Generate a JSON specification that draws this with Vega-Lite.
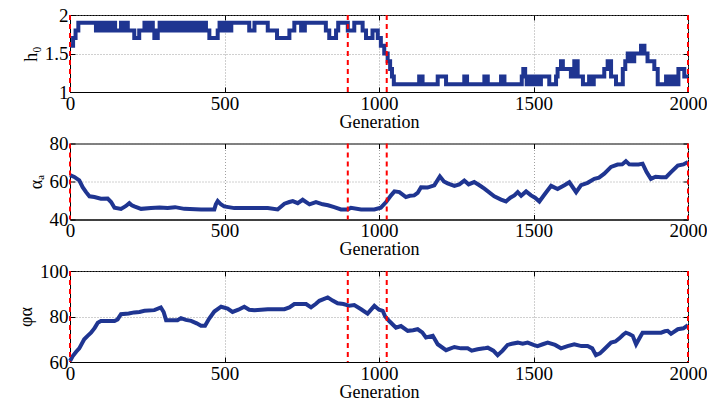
{
  "$schema": "https://vega.github.io/schema/vega-lite/v6.json",
  "padding": {"left": 17, "top": 5, "right": 0, "bottom": 0},
  "bounds": "flush",
  "spacing": 51.5,
  "config": {
    "view": {"stroke": "black", "strokeWidth": 1},
    "axis": {
      "labelFont": "Liberation Serif", "titleFont": "Liberation Serif",
      "labelFontSize": 19, "titleFontSize": 18, "titleFontWeight": "normal",
      "labelColor": "black", "titleColor": "black",
      "domainColor": "black", "tickColor": "black", "tickSize": -5, "tickWidth": 1,
      "labelPadding": 7, "labelFlush": false, "labelOverlap": false,
      "gridColor": "#888888", "gridDash": [1, 2], "gridWidth": 0.8
    }
  },
  "datasets": {
    "vlines": [{"g": 0}, {"g": 899}, {"g": 1025}, {"g": 2000}],
    "h0": [
      {"g":0,"v":1.6},{"g":10,"v":1.7},{"g":18,"v":1.8},{"g":27,"v":1.9},
      {"g":84,"v":1.8},{"g":90,"v":1.9},{"g":94,"v":1.8},{"g":100,"v":1.9},{"g":103,"v":1.8},{"g":110,"v":1.9},{"g":114,"v":1.8},{"g":122,"v":1.9},{"g":126,"v":1.8},{"g":133,"v":1.9},{"g":137,"v":1.8},{"g":143,"v":1.9},{"g":146,"v":1.8},
      {"g":165,"v":1.9},{"g":170,"v":1.8},{"g":175,"v":1.9},{"g":180,"v":1.8},{"g":183,"v":1.9},{"g":187,"v":1.8},
      {"g":208,"v":1.7},{"g":224,"v":1.8},{"g":241,"v":1.9},{"g":247,"v":1.8},{"g":252,"v":1.9},{"g":258,"v":1.8},{"g":263,"v":1.9},{"g":268,"v":1.8},{"g":273,"v":1.7},{"g":284,"v":1.8},
      {"g":290,"v":1.9},{"g":296,"v":1.8},{"g":305,"v":1.9},{"g":310,"v":1.8},{"g":316,"v":1.9},{"g":321,"v":1.8},{"g":326,"v":1.9},{"g":333,"v":1.8},{"g":338,"v":1.9},{"g":345,"v":1.8},{"g":350,"v":1.9},{"g":358,"v":1.8},{"g":362,"v":1.9},{"g":370,"v":1.8},{"g":376,"v":1.9},{"g":384,"v":1.8},{"g":390,"v":1.9},{"g":398,"v":1.8},{"g":403,"v":1.9},{"g":412,"v":1.8},{"g":417,"v":1.9},{"g":425,"v":1.8},{"g":430,"v":1.9},{"g":440,"v":1.8},
      {"g":451,"v":1.7},{"g":478,"v":1.8},{"g":484,"v":1.9},{"g":490,"v":1.8},{"g":497,"v":1.9},{"g":503,"v":1.8},{"g":510,"v":1.9},{"g":516,"v":1.8},{"g":522,"v":1.9},
      {"g":580,"v":1.8},{"g":597,"v":1.9},{"g":640,"v":1.8},{"g":670,"v":1.7},{"g":710,"v":1.8},{"g":726,"v":1.9},{"g":748,"v":1.8},{"g":760,"v":1.9},{"g":828,"v":1.8},{"g":839,"v":1.7},{"g":861,"v":1.8},{"g":868,"v":1.9},
      {"g":899,"v":1.8},{"g":920,"v":1.9},{"g":947,"v":1.8},{"g":958,"v":1.7},{"g":979,"v":1.8},{"g":996,"v":1.7},{"g":1006,"v":1.6},{"g":1017,"v":1.5},{"g":1028,"v":1.4},{"g":1036,"v":1.3},{"g":1042,"v":1.2},{"g":1048,"v":1.1},
      {"g":1130,"v":1.2},{"g":1141,"v":1.1},{"g":1190,"v":1.2},{"g":1217,"v":1.1},{"g":1276,"v":1.2},{"g":1285,"v":1.1},{"g":1341,"v":1.2},{"g":1352,"v":1.1},{"g":1395,"v":1.2},{"g":1406,"v":1.1},
      {"g":1462,"v":1.2},{"g":1467,"v":1.3},{"g":1473,"v":1.2},{"g":1478,"v":1.1},{"g":1485,"v":1.2},{"g":1492,"v":1.1},{"g":1503,"v":1.2},{"g":1507,"v":1.1},{"g":1512,"v":1.2},{"g":1516,"v":1.1},{"g":1524,"v":1.2},{"g":1551,"v":1.1},
      {"g":1573,"v":1.2},{"g":1578,"v":1.3},{"g":1589,"v":1.4},{"g":1595,"v":1.3},{"g":1621,"v":1.2},{"g":1632,"v":1.4},{"g":1643,"v":1.2},{"g":1660,"v":1.1},{"g":1680,"v":1.2},{"g":1686,"v":1.1},{"g":1695,"v":1.2},
      {"g":1702,"v":1.2},{"g":1729,"v":1.3},{"g":1740,"v":1.4},{"g":1751,"v":1.2},{"g":1767,"v":1.1},{"g":1789,"v":1.3},{"g":1797,"v":1.4},{"g":1805,"v":1.5},{"g":1816,"v":1.4},{"g":1826,"v":1.5},{"g":1848,"v":1.6},{"g":1859,"v":1.5},{"g":1869,"v":1.4},{"g":1891,"v":1.3},{"g":1902,"v":1.1},
      {"g":1929,"v":1.2},{"g":1940,"v":1.1},{"g":1950,"v":1.2},{"g":1961,"v":1.1},{"g":1969,"v":1.3},{"g":1988,"v":1.2},{"g":2000,"v":1.2}
    ],
    "alpha": [
      {"g":0,"v":63.3},{"g":14,"v":62.4},{"g":30,"v":60.6},{"g":41,"v":57},{"g":52,"v":54.4},{"g":63,"v":52.2},{"g":79,"v":51.8},{"g":100,"v":50.9},{"g":122,"v":51},{"g":133,"v":49.2},{"g":144,"v":46.2},{"g":165,"v":45.6},{"g":180,"v":47},{"g":192,"v":48.6},{"g":200,"v":47.5},{"g":208,"v":46.9},{"g":230,"v":45.6},{"g":262,"v":46},{"g":290,"v":46.3},{"g":316,"v":46},{"g":340,"v":46.5},{"g":370,"v":45.6},{"g":424,"v":45.3},{"g":467,"v":45.3},{"g":472,"v":48},{"g":478,"v":49.7},{"g":488,"v":48},{"g":499,"v":46.9},{"g":532,"v":46},{"g":586,"v":46},{"g":640,"v":46},{"g":672,"v":45.3},{"g":694,"v":48.3},{"g":710,"v":49.2},{"g":721,"v":49.7},{"g":737,"v":48.6},{"g":753,"v":50.4},{"g":775,"v":48},{"g":796,"v":49.2},{"g":818,"v":48},{"g":835,"v":47.5},{"g":855,"v":46.5},{"g":877,"v":45.3},{"g":899,"v":45.3},{"g":909,"v":46.2},{"g":942,"v":45.3},{"g":985,"v":45.3},{"g":1006,"v":46.2},{"g":1023,"v":49.2},{"g":1039,"v":52.7},{"g":1050,"v":54.8},{"g":1066,"v":54.4},{"g":1087,"v":51.8},{"g":1100,"v":52.5},{"g":1114,"v":52.7},{"g":1125,"v":54},{"g":1136,"v":57},{"g":1157,"v":56.8},{"g":1179,"v":58},{"g":1197,"v":62.7},{"g":1210,"v":60},{"g":1222,"v":59},{"g":1244,"v":57.7},{"g":1260,"v":58.5},{"g":1276,"v":60.5},{"g":1290,"v":58.5},{"g":1308,"v":59.7},{"g":1325,"v":58},{"g":1341,"v":56.2},{"g":1373,"v":52.2},{"g":1395,"v":50.5},{"g":1411,"v":49.5},{"g":1425,"v":51.5},{"g":1438,"v":52.7},{"g":1449,"v":54.4},{"g":1460,"v":52.5},{"g":1476,"v":54.8},{"g":1492,"v":52.7},{"g":1505,"v":51.5},{"g":1519,"v":49.5},{"g":1535,"v":53},{"g":1557,"v":57.7},{"g":1578,"v":56},{"g":1600,"v":58},{"g":1616,"v":59.6},{"g":1638,"v":54.4},{"g":1654,"v":58.1},{"g":1675,"v":59.3},{"g":1697,"v":61.4},{"g":1712,"v":62},{"g":1729,"v":64.1},{"g":1751,"v":67.7},{"g":1772,"v":68.9},{"g":1787,"v":69},{"g":1799,"v":70.7},{"g":1810,"v":69},{"g":1821,"v":68.9},{"g":1840,"v":69},{"g":1853,"v":69.4},{"g":1866,"v":65},{"g":1880,"v":61.4},{"g":1895,"v":62.5},{"g":1913,"v":62.3},{"g":1929,"v":62.3},{"g":1945,"v":64.9},{"g":1967,"v":68.4},{"g":1985,"v":69},{"g":2000,"v":70.3}
    ],
    "phi": [
      {"g":0,"v":60.4},{"g":9,"v":62.6},{"g":20,"v":64.5},{"g":30,"v":66},{"g":46,"v":70},{"g":57,"v":71.5},{"g":68,"v":72.9},{"g":80,"v":75},{"g":90,"v":77.3},{"g":100,"v":78},{"g":144,"v":78},{"g":154,"v":78.7},{"g":165,"v":81},{"g":190,"v":81.3},{"g":208,"v":81.8},{"g":225,"v":82},{"g":241,"v":82.5},{"g":273,"v":82.8},{"g":294,"v":84},{"g":303,"v":82},{"g":311,"v":78.4},{"g":348,"v":78.4},{"g":359,"v":79.3},{"g":375,"v":78.5},{"g":392,"v":78.1},{"g":410,"v":77},{"g":424,"v":75.9},{"g":437,"v":75.9},{"g":450,"v":79},{"g":467,"v":82.2},{"g":489,"v":84.3},{"g":510,"v":83.5},{"g":526,"v":82},{"g":545,"v":83},{"g":564,"v":84.3},{"g":580,"v":83},{"g":597,"v":82.8},{"g":640,"v":83.2},{"g":694,"v":83.2},{"g":710,"v":84},{"g":726,"v":85.5},{"g":764,"v":85.5},{"g":780,"v":84},{"g":795,"v":85.5},{"g":807,"v":86.9},{"g":834,"v":88.4},{"g":850,"v":87},{"g":866,"v":85.8},{"g":885,"v":85.5},{"g":904,"v":84.7},{"g":920,"v":85},{"g":942,"v":83.2},{"g":963,"v":81.3},{"g":985,"v":84.7},{"g":1000,"v":83},{"g":1012,"v":82.5},{"g":1020,"v":80},{"g":1033,"v":78},{"g":1055,"v":75.1},{"g":1071,"v":75.8},{"g":1093,"v":73.7},{"g":1110,"v":74},{"g":1125,"v":74.4},{"g":1140,"v":73},{"g":1152,"v":70.8},{"g":1174,"v":71.5},{"g":1190,"v":67.8},{"g":1217,"v":65.2},{"g":1244,"v":66.6},{"g":1265,"v":66},{"g":1287,"v":66},{"g":1300,"v":65},{"g":1319,"v":65.6},{"g":1340,"v":66},{"g":1352,"v":66.3},{"g":1370,"v":65},{"g":1384,"v":63},{"g":1400,"v":65},{"g":1416,"v":67.5},{"g":1430,"v":68},{"g":1449,"v":68.5},{"g":1465,"v":68},{"g":1481,"v":68.5},{"g":1500,"v":67.5},{"g":1513,"v":67},{"g":1530,"v":67.8},{"g":1546,"v":68.5},{"g":1570,"v":67.5},{"g":1589,"v":66},{"g":1610,"v":67},{"g":1632,"v":67.8},{"g":1655,"v":67},{"g":1675,"v":67},{"g":1690,"v":66},{"g":1702,"v":63},{"g":1715,"v":63.8},{"g":1729,"v":65.6},{"g":1751,"v":68.5},{"g":1765,"v":69},{"g":1778,"v":70.4},{"g":1790,"v":72},{"g":1799,"v":72.9},{"g":1810,"v":72.3},{"g":1821,"v":71.5},{"g":1832,"v":67.8},{"g":1845,"v":71},{"g":1853,"v":72.9},{"g":1913,"v":72.9},{"g":1925,"v":73.5},{"g":1934,"v":73.7},{"g":1945,"v":72.4},{"g":1967,"v":74.4},{"g":1985,"v":74.8},{"g":2000,"v":76.2}
    ]
  },
  "vconcat": [
    {
      "width": 618, "height": 77,
      "layer": [
        {"data": {"name": "h0"},
         "mark": {"type": "line", "interpolate": "step-after", "color": "#1f3591", "strokeWidth": 4},
         "encoding": {
           "x": {"field": "g", "type": "quantitative", "scale": {"domain": [0, 2000], "nice": false}, "axis": {"title": "Generation", "values": [0, 500, 1000, 1500, 2000], "format": "d", "grid": true, "titlePadding": 0}},
           "y": {"field": "v", "type": "quantitative", "scale": {"domain": [1, 2], "nice": false, "zero": false}, "axis": {"title": "h₀", "values": [1, 1.5, 2], "format": "~g", "grid": true, "titlePadding": 4}}
         }},
        {"data": {"name": "h0"},
         "mark": {"type": "line", "strokeOpacity": 0},
         "encoding": {
           "x": {"field": "g", "type": "quantitative", "axis": {"orient": "top", "labels": false, "title": null, "grid": false, "domain": false, "values": [0, 500, 1000, 1500, 2000]}},
           "y": {"field": "v", "type": "quantitative", "axis": {"orient": "right", "labels": false, "title": null, "grid": false, "domain": false, "values": [1, 1.5, 2]}}
         }},
        {"data": {"name": "vlines"},
         "mark": {"type": "rule", "color": "#ff0000", "strokeDash": [5, 4], "strokeWidth": 2},
         "encoding": {"x": {"field": "g", "type": "quantitative", "axis": null}}}
      ],
      "resolve": {"axis": {"x": "independent", "y": "independent"}}
    },
    {
      "width": 618, "height": 76,
      "layer": [
        {"data": {"name": "alpha"},
         "mark": {"type": "line", "color": "#1f3591", "strokeWidth": 4},
         "encoding": {
           "x": {"field": "g", "type": "quantitative", "scale": {"domain": [0, 2000], "nice": false}, "axis": {"title": "Generation", "values": [0, 500, 1000, 1500, 2000], "format": "d", "grid": true, "titlePadding": 0}},
           "y": {"field": "v", "type": "quantitative", "scale": {"domain": [40, 80], "nice": false, "zero": false}, "axis": {"title": "αₐ", "values": [40, 60, 80], "format": "d", "grid": true, "titlePadding": 4}}
         }},
        {"data": {"name": "alpha"},
         "mark": {"type": "line", "strokeOpacity": 0},
         "encoding": {
           "x": {"field": "g", "type": "quantitative", "axis": {"orient": "top", "labels": false, "title": null, "grid": false, "domain": false, "values": [0, 500, 1000, 1500, 2000]}},
           "y": {"field": "v", "type": "quantitative", "axis": {"orient": "right", "labels": false, "title": null, "grid": false, "domain": false, "values": [40, 60, 80]}}
         }},
        {"data": {"name": "vlines"},
         "mark": {"type": "rule", "color": "#ff0000", "strokeDash": [5, 4], "strokeWidth": 2},
         "encoding": {"x": {"field": "g", "type": "quantitative", "axis": null}}}
      ],
      "resolve": {"axis": {"x": "independent", "y": "independent"}}
    },
    {
      "width": 618, "height": 91,
      "layer": [
        {"data": {"name": "phi"},
         "mark": {"type": "line", "color": "#1f3591", "strokeWidth": 4},
         "encoding": {
           "x": {"field": "g", "type": "quantitative", "scale": {"domain": [0, 2000], "nice": false}, "axis": {"title": "Generation", "values": [0, 500, 1000, 1500, 2000], "format": "d", "grid": true, "titlePadding": 0}},
           "y": {"field": "v", "type": "quantitative", "scale": {"domain": [60, 100], "nice": false, "zero": false}, "axis": {"title": "φα", "values": [60, 80, 100], "format": "d", "grid": true, "titlePadding": 4}}
         }},
        {"data": {"name": "phi"},
         "mark": {"type": "line", "strokeOpacity": 0},
         "encoding": {
           "x": {"field": "g", "type": "quantitative", "axis": {"orient": "top", "labels": false, "title": null, "grid": false, "domain": false, "values": [0, 500, 1000, 1500, 2000]}},
           "y": {"field": "v", "type": "quantitative", "axis": {"orient": "right", "labels": false, "title": null, "grid": false, "domain": false, "values": [60, 80, 100]}}
         }},
        {"data": {"name": "vlines"},
         "mark": {"type": "rule", "color": "#ff0000", "strokeDash": [5, 4], "strokeWidth": 2},
         "encoding": {"x": {"field": "g", "type": "quantitative", "axis": null}}}
      ],
      "resolve": {"axis": {"x": "independent", "y": "independent"}}
    }
  ]
}
